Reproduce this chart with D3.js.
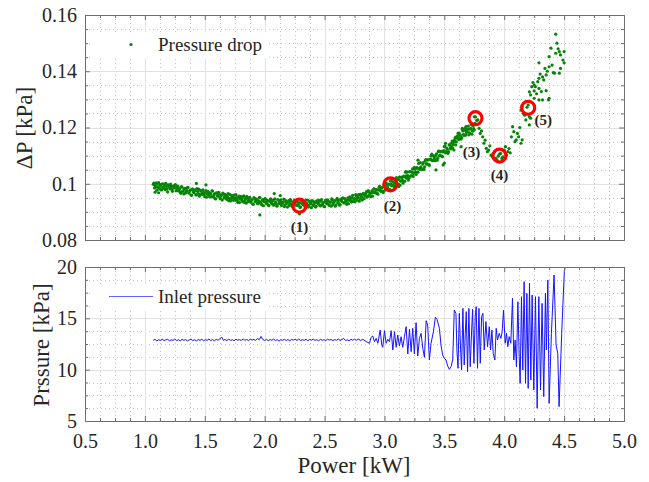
<!DOCTYPE html>
<html><head><meta charset="utf-8">
<script src="https://cdn.jsdelivr.net/npm/d3@7"></script>
<style>body{margin:0;background:#fff}svg{display:block}text{font-family:"Liberation Serif","Times New Roman",serif;fill:#262626}</style>
</head><body><svg id="c" width="649" height="482"></svg>
<script>
// ---------------- data ----------------
const xTickValues = [0.5,1.0,1.5,2.0,2.5,3.0,3.5,4.0,4.5,5.0];
const dpTickValues = [0.08,0.10,0.12,0.14,0.16];
const dpTickLabels = ["0.08","0.1","0.12","0.14","0.16"];
const pTickValues = [5,10,15,20];
const xMinorStep = 0.125, dpMinorStep = 0.005, pMinorStep = 1.25;

const dropPoints = [
[1.07,0.0998],[1.08,0.0985],[1.09,0.0991],[1.10,0.0977],[1.11,0.0999],[1.12,0.0985],[1.13,0.0994],[1.14,0.0978],[1.15,0.0988],[1.16,0.0999],
[1.17,0.0979],[1.18,0.0990],[1.19,0.0971],[1.20,0.0994],[1.21,0.0982],[1.22,0.0991],[1.23,0.0973],[1.24,0.0985],[1.25,0.0994],[1.26,0.0975],
[1.27,0.0988],[1.28,0.0975],[1.29,0.0981],[1.30,0.0966],[1.31,0.0988],[1.32,0.0974],[1.33,0.0982],[1.34,0.0967],[1.35,0.0976],[1.36,0.0987],
[1.37,0.0967],[1.38,0.0977],[1.39,0.0959],[1.40,0.0981],[1.41,0.0969],[1.42,0.0978],[1.43,0.0960],[1.44,0.0973],[1.45,0.0981],[1.46,0.0962],
[1.47,0.0976],[1.48,0.0962],[1.49,0.0969],[1.50,0.0954],[1.51,0.0976],[1.52,0.0962],[1.53,0.0970],[1.54,0.0954],[1.55,0.0963],[1.56,0.0975],
[1.57,0.0954],[1.58,0.0964],[1.59,0.0946],[1.60,0.0968],[1.61,0.0956],[1.62,0.0965],[1.63,0.0947],[1.64,0.0959],[1.65,0.0967],[1.66,0.0949],
[1.67,0.0962],[1.68,0.0948],[1.69,0.0955],[1.70,0.0940],[1.71,0.0962],[1.72,0.0948],[1.73,0.0956],[1.74,0.0941],[1.75,0.0950],[1.76,0.0961],
[1.77,0.0941],[1.78,0.0951],[1.79,0.0933],[1.80,0.0955],[1.81,0.0943],[1.82,0.0952],[1.83,0.0934],[1.84,0.0947],[1.85,0.0955],[1.86,0.0936],
[1.87,0.0950],[1.88,0.0936],[1.89,0.0943],[1.90,0.0928],[1.91,0.0951],[1.92,0.0936],[1.93,0.0945],[1.94,0.0930],[1.95,0.0939],[1.96,0.0951],
[1.97,0.0930],[1.98,0.0941],[1.99,0.0922],[2.00,0.0945],[2.01,0.0934],[2.02,0.0942],[2.03,0.0925],[2.04,0.0938],[2.05,0.0946],[2.06,0.0928],
[2.07,0.0942],[2.08,0.0928],[2.09,0.0935],[2.10,0.0921],[2.11,0.0944],[2.12,0.0930],[2.13,0.0938],[2.14,0.0923],[2.15,0.0933],[2.16,0.0945],
[2.17,0.0925],[2.18,0.0935],[2.19,0.0917],[2.20,0.0940],[2.21,0.0929],[2.22,0.0938],[2.23,0.0920],[2.24,0.0933],[2.25,0.0942],[2.26,0.0924],
[2.27,0.0937],[2.28,0.0924],[2.29,0.0931],[2.30,0.0917],[2.31,0.0940],[2.32,0.0926],[2.33,0.0935],[2.34,0.0920],[2.35,0.0930],[2.36,0.0942],
[2.37,0.0922],[2.38,0.0933],[2.39,0.0915],[2.40,0.0938],[2.41,0.0927],[2.42,0.0936],[2.43,0.0920],[2.44,0.0933],[2.45,0.0942],[2.46,0.0924],
[2.47,0.0938],[2.48,0.0926],[2.49,0.0933],[2.50,0.0919],[2.51,0.0942],[2.52,0.0929],[2.53,0.0938],[2.54,0.0923],[2.55,0.0934],[2.56,0.0946],
[2.57,0.0926],[2.58,0.0938],[2.59,0.0920],[2.60,0.0943],[2.61,0.0933],[2.62,0.0942],[2.63,0.0926],[2.64,0.0940],[2.65,0.0949],[2.66,0.0932],
[2.67,0.0947],[2.68,0.0934],[2.69,0.0942],[2.70,0.0929],[2.71,0.0953],[2.72,0.0940],[2.73,0.0951],[2.74,0.0937],[2.75,0.0948],[2.76,0.0961],
[2.77,0.0942],[2.78,0.0954],[2.79,0.0938],[2.80,0.0962],[2.81,0.0952],[2.82,0.0963],[2.83,0.0947],[2.84,0.0962],[2.85,0.0972],[2.86,0.0956],
[2.87,0.0971],[2.88,0.0960],[2.89,0.0968],[2.90,0.0956],[2.91,0.0981],[2.92,0.0969],[2.93,0.0979],[2.94,0.0966],[2.95,0.0978],[2.96,0.0991],
[2.97,0.0973],[2.98,0.0986],[2.99,0.0969],[3.00,0.0994],
[1.075,0.1002],[1.085,0.0995],[1.095,0.1003],[1.105,0.0988],[1.115,0.1004],[1.125,0.0981],[1.135,0.0997],[1.145,0.1000],[1.155,0.0984],[1.165,0.0993],
[1.175,0.1001],[1.185,0.0982],[1.195,0.0996],[1.205,0.0989],[1.215,0.0999],[1.225,0.0980],[1.235,0.0992],[1.245,0.0986],[1.255,0.0997],[1.265,0.0983],
[1.275,0.0992],[1.085,0.0970],[1.115,0.0968],[1.43,0.1001],[1.51,0.0996],[1.96,0.0889],[2.29,0.0893],[2.08,0.0965],[2.13,0.0958],
[1.285,0.0984],[1.295,0.0970],[1.305,0.0990],[1.315,0.0974],[1.325,0.0964],[1.335,0.0984],[1.345,0.0975],[1.355,0.0986],[1.365,0.0968],[1.375,0.0976],
[1.385,0.0960],[1.395,0.0981],[1.405,0.0970],[1.415,0.0976],[1.425,0.0961],[1.435,0.0983],[1.445,0.0966],[1.455,0.0956],[1.465,0.0976],[1.475,0.0967],
[1.485,0.0978],[1.495,0.0960],[1.505,0.0968],[1.515,0.0952],[1.525,0.0973],[1.535,0.0962],[1.545,0.0967],[1.555,0.0953],[1.565,0.0974],[1.575,0.0957],
[1.585,0.0948],[1.595,0.0967],[1.605,0.0958],[1.615,0.0969],[1.625,0.0951],[1.635,0.0959],[1.645,0.0942],[1.655,0.0964],[1.665,0.0953],[1.675,0.0958],
[1.685,0.0944],[1.695,0.0965],[1.705,0.0948],[1.715,0.0939],[1.725,0.0958],[1.735,0.0950],[1.745,0.0960],[1.755,0.0942],[1.765,0.0951],[1.775,0.0934],
[1.785,0.0956],[1.795,0.0945],[1.805,0.0950],[1.815,0.0936],[1.825,0.0957],[1.835,0.0941],[1.845,0.0931],[1.855,0.0950],[1.865,0.0942],[1.875,0.0952],
[1.885,0.0935],[1.895,0.0943],[1.905,0.0927],[1.915,0.0948],[1.925,0.0938],[1.935,0.0944],[1.945,0.0929],[1.955,0.0951],[1.965,0.0934],[1.975,0.0925],
[1.985,0.0944],[1.995,0.0936],[2.005,0.0947],[2.015,0.0929],[2.025,0.0938],[2.035,0.0922],[2.045,0.0943],[2.055,0.0933],[2.065,0.0939],[2.075,0.0924],
[2.085,0.0946],[2.095,0.0930],[2.105,0.0921],[2.115,0.0941],[2.125,0.0932],[2.135,0.0943],[2.145,0.0926],[2.155,0.0935],[2.165,0.0919],[2.175,0.0940],
[2.185,0.0930],[2.195,0.0936],[2.205,0.0922],[2.215,0.0944],[2.225,0.0927],[2.235,0.0918],[2.245,0.0938],[2.255,0.0930],[2.265,0.0940],[2.275,0.0923],
[2.285,0.0932],[2.295,0.0916],[2.305,0.0938],[2.315,0.0928],[2.325,0.0934],[2.335,0.0920],[2.345,0.0942],[2.355,0.0926],[2.365,0.0917],[2.375,0.0937],
[2.385,0.0929],[2.395,0.0940],[2.405,0.0923],[2.415,0.0932],[2.425,0.0917],[2.435,0.0939],[2.445,0.0929],[2.455,0.0935],[2.465,0.0921],[2.475,0.0944],
[2.485,0.0928],[2.495,0.0919],[2.505,0.0939],[2.515,0.0932],[2.525,0.0943],[2.535,0.0926],[2.545,0.0936],[2.555,0.0920],[2.565,0.0943],[2.575,0.0933],
[2.585,0.0939],[2.595,0.0925],[2.605,0.0948],[2.615,0.0932],[2.625,0.0924],[2.635,0.0945],[2.645,0.0937],[2.655,0.0949],[2.665,0.0933],[2.675,0.0942],
[2.685,0.0927],[2.695,0.0950],[2.705,0.0941],[2.715,0.0948],[2.725,0.0935],[2.735,0.0959],[2.745,0.0944],[2.755,0.0936],[2.765,0.0957],[2.775,0.0950],
[2.785,0.0962],[2.795,0.0947],[2.805,0.0957],[2.815,0.0942],[2.825,0.0966],[2.835,0.0957],[2.845,0.0965],[2.855,0.0952],[2.865,0.0976],[2.875,0.0961],
[2.885,0.0954],[2.895,0.0975],[2.905,0.0969],[2.915,0.0982],[2.925,0.0967],[2.935,0.0977],[2.945,0.0963],[2.955,0.0987],[2.965,0.0978],[2.975,0.0986],
[2.985,0.0974],[2.995,0.0997],
[3.01,0.0997],[3.02,0.0982],[3.03,0.0995],[3.04,0.0979],[3.05,0.1010],[3.06,0.0993],[3.07,0.1007],[3.08,0.0990],[3.09,0.1004],[3.10,0.1022],
[3.11,0.0999],[3.12,0.1015],[3.13,0.0995],[3.14,0.1024],[3.15,0.1012],[3.16,0.1027],[3.17,0.1009],[3.18,0.1028],[3.19,0.1041],[3.20,0.1024],
[3.21,0.1043],[3.22,0.1028],[3.23,0.1042],[3.24,0.1026],[3.25,0.1058],[3.26,0.1042],[3.27,0.1057],[3.28,0.1041],[3.29,0.1056],[3.30,0.1075],
[3.31,0.1053],[3.32,0.1070],[3.33,0.1051],[3.34,0.1081],[3.35,0.1070],[3.36,0.1085],[3.37,0.1067],[3.38,0.1086],[3.39,0.1099],[3.40,0.1082],
[3.41,0.1100],[3.42,0.1086],[3.43,0.1099],[3.44,0.1084],[3.45,0.1115],[3.46,0.1099],[3.47,0.1114],[3.48,0.1098],[3.49,0.1113],[3.50,0.1132],
[3.51,0.1110],[3.52,0.1127],[3.53,0.1108],[3.54,0.1138],[3.55,0.1127],[3.56,0.1144],[3.57,0.1128],[3.58,0.1149],[3.59,0.1164],[3.60,0.1149],
[3.61,0.1170],[3.62,0.1157],[3.63,0.1173],[3.64,0.1159],[3.65,0.1193],[3.66,0.1176],[3.67,0.1190],[3.68,0.1173],[3.69,0.1187],[3.70,0.1205],
[3.71,0.1181],[3.72,0.1197],[3.73,0.1176],[3.74,0.1205],[3.75,0.1192],
[3.005,0.0977],[3.015,0.1002],[3.025,0.0987],[3.035,0.0999],[3.045,0.0979],[3.055,0.1000],[3.065,0.1016],[3.075,0.0994],[3.085,0.1002],[3.095,0.0992],
[3.105,0.1015],[3.115,0.0999],[3.125,0.1024],[3.135,0.1009],[3.145,0.1021],[3.155,0.1002],[3.165,0.1024],[3.175,0.1041],[3.185,0.1020],[3.195,0.1029],
[3.205,0.1020],[3.215,0.1043],[3.225,0.1028],[3.235,0.1053],[3.245,0.1039],[3.255,0.1052],[3.265,0.1033],[3.275,0.1055],[3.285,0.1072],[3.295,0.1051],
[3.305,0.1060],[3.315,0.1051],[3.325,0.1075],[3.335,0.1060],[3.345,0.1086],[3.355,0.1072],[3.365,0.1085],[3.375,0.1066],[3.385,0.1088],[3.395,0.1105],
[3.405,0.1083],[3.415,0.1092],[3.425,0.1082],[3.435,0.1106],[3.445,0.1090],[3.455,0.1116],[3.465,0.1102],[3.475,0.1115],[3.485,0.1096],[3.495,0.1118],
[3.505,0.1135],[3.515,0.1114],[3.525,0.1123],[3.535,0.1114],[3.545,0.1138],[3.555,0.1124],[3.565,0.1152],[3.575,0.1140],[3.585,0.1155],[3.595,0.1138],
[3.605,0.1162],[3.615,0.1180],[3.625,0.1161],[3.635,0.1171],[3.645,0.1164],[3.655,0.1188],[3.665,0.1172],[3.675,0.1197],[3.685,0.1182],[3.695,0.1194],
[3.705,0.1174],[3.715,0.1194],[3.725,0.1210],[3.735,0.1187],[3.745,0.1195],
[3.43,0.1049],[3.49,0.1067],[3.50,0.1073],[3.51,0.1144],[3.56,0.1132],[3.58,0.1120],[3.64,0.1132],[3.60,0.1167],[3.625,0.1179],[3.68,0.1203],
[3.28,0.1084],[3.18,0.1043],[3.24,0.1037],[3.12,0.0990],[3.20,0.1013],[3.76,0.1238],[3.77,0.1225],[3.755,0.1215],[3.75,0.1238],[3.78,0.1227],
[3.65,0.1197],
[3.79,0.1197],[3.80,0.1179],[3.81,0.1188],[3.82,0.1167],[3.83,0.1144],[3.84,0.1155],[3.85,0.1126],[3.86,0.1114],[3.87,0.1120],[3.88,0.1135],
[3.89,0.1102],[3.90,0.1096],[3.91,0.1108],[3.92,0.1114],[3.93,0.1090],[3.94,0.1084],[3.95,0.1098],[3.96,0.1105],[3.97,0.1108],[3.98,0.1090],
[3.99,0.1096],[4.00,0.1120],[4.01,0.1132],[4.02,0.1102],[4.03,0.1114],[4.04,0.1125],[4.05,0.1110],[4.06,0.1167],[4.07,0.1203],[4.08,0.1185],
[4.09,0.1150],[4.10,0.1156],[4.11,0.1179],[4.12,0.1167],[4.13,0.1200],[4.14,0.1144],[4.15,0.1156],[4.14,0.1262],[4.15,0.1274],[4.16,0.1250],
[4.17,0.1244],[4.18,0.1227],[4.19,0.1272],[4.20,0.1280],[4.21,0.1209],[4.22,0.1233],[4.21,0.1238],[4.21,0.1327],[4.22,0.1316],[4.18,0.1292],
[4.23,0.1345],[4.24,0.1360],[4.25,0.1351],[4.25,0.1330],[4.25,0.1304],[4.26,0.1345],[4.27,0.1320],[4.28,0.1363],[4.29,0.1375],[4.29,0.1339],
[4.29,0.1298],[4.29,0.1430],[4.30,0.1390],[4.31,0.1328],[4.32,0.1380],[4.32,0.1298],[4.33,0.1369],[4.34,0.1410],[4.35,0.1387],[4.35,0.1331],
[4.36,0.1400],[4.37,0.1298],[4.375,0.1304],[4.375,0.1416],[4.375,0.1452],[4.39,0.1482],[4.40,0.1422],[4.41,0.1395],[4.42,0.1393],[4.43,0.1532],
[4.43,0.1464],[4.44,0.1500],[4.45,0.1480],[4.46,0.1470],[4.46,0.1393],[4.47,0.1458],[4.47,0.1410],[4.49,0.1440],[4.50,0.1470],[4.50,0.1430]
];

const markerPoints = [[2.29,0.0922],[3.05,0.0998],[3.76,0.1233],[3.96,0.1100],[4.20,0.1270]];
const markerLabels = ["(1)","(2)","(3)","(4)","(5)"];

const pressureLine = [
[1.07,12.86],[1.085,12.95],[1.10,12.80],[1.115,12.92],[1.13,12.84],[1.145,12.97],[1.16,12.83],[1.175,12.91],[1.19,12.96],[1.205,12.82],
[1.22,12.90],[1.235,12.85],[1.25,12.99],[1.265,12.83],[1.28,12.92],[1.295,12.80],[1.31,12.95],[1.325,12.86],[1.34,12.93],[1.355,12.81],
[1.37,12.90],[1.385,12.97],[1.40,12.84],[1.415,12.91],[1.43,12.79],[1.445,12.94],[1.46,12.85],[1.475,12.96],[1.49,12.82],[1.505,12.92],
[1.52,12.86],[1.535,12.98],[1.55,12.83],[1.565,12.93],[1.58,12.81],[1.595,12.95],[1.61,12.87],[1.625,12.99],[1.64,13.18],[1.655,12.86],
[1.67,12.94],[1.685,12.83],[1.70,12.97],[1.715,12.85],[1.73,12.92],[1.745,12.82],[1.76,12.96],[1.775,12.87],[1.79,12.93],[1.805,12.84],
[1.82,12.99],[1.835,12.86],[1.85,12.94],[1.865,12.83],[1.88,12.97],[1.895,12.88],[1.91,12.95],[1.925,12.85],[1.94,13.03],[1.955,12.92],
[1.97,13.24],[1.985,12.94],[2.00,12.84],[2.015,12.95],[2.03,12.82],[2.045,12.93],[2.06,12.87],[2.075,12.98],[2.09,12.84],[2.105,12.92],
[2.12,12.78],[2.135,12.91],[2.15,12.86],[2.165,12.96],[2.18,12.84],[2.195,12.93],[2.21,12.81],[2.225,12.95],[2.24,12.87],[2.255,12.97],
[2.27,12.85],[2.285,12.99],[2.30,12.83],[2.315,12.92],[2.33,12.86],[2.345,12.96],[2.36,12.82],[2.375,12.94],[2.39,12.87],[2.405,12.98],
[2.42,12.84],[2.435,12.93],[2.45,12.81],[2.465,12.95],[2.48,12.86],[2.495,12.92],[2.51,12.83],[2.525,12.97],[2.54,12.88],[2.555,12.95],
[2.57,12.82],[2.585,12.93],[2.60,12.86],[2.615,12.99],[2.63,12.84],[2.645,12.94],[2.66,13.04],[2.675,12.83],[2.69,12.92],[2.705,12.80],
[2.72,12.96],[2.735,12.87],[2.75,12.98],[2.765,12.85],[2.78,13.00],[2.80,12.84],
[2.82,12.95],[2.848,12.73],[2.875,12.57],[2.889,13.15],[2.903,13.28],[2.917,12.73],[2.931,13.05],[2.945,12.57],[2.964,13.86],[2.978,12.40],
[2.986,12.18],[3.0,13.80],[3.014,12.57],[3.028,12.95],[3.042,12.73],[3.056,13.80],[3.07,11.92],[3.084,13.70],[3.098,12.18],[3.111,13.38],
[3.125,12.30],[3.139,13.21],[3.153,12.18],[3.167,13.21],[3.181,14.19],[3.195,11.53],[3.209,13.93],[3.223,11.75],[3.236,14.03],[3.25,11.53],
[3.264,14.58],[3.278,11.33],[3.292,13.05],[3.306,13.54],[3.32,12.08],[3.334,11.20],[3.348,14.77],[3.361,14.35],[3.375,10.94],[3.389,12.57],
[3.409,13.70],[3.425,15.10],[3.439,14.90],[3.459,14.03],[3.472,12.40],[3.486,11.43],[3.5,11.10],[3.514,10.94],[3.528,10.36],[3.542,10.03],
[3.556,10.29],[3.57,10.94],[3.583,15.81],
[3.597,15.49],[3.605,11.92],[3.614,10.13],[3.625,15.49],[3.636,11.92],[3.644,9.97],[3.655,15.97],[3.666,10.46],[3.675,13.54],[3.683,15.65],
[3.694,9.81],[3.705,15.97],[3.716,10.29],[3.728,13.86],[3.736,15.88],[3.747,10.62],[3.758,15.16],[3.766,16.14],[3.777,10.13],[3.789,15.97],
[3.80,10.62],[3.811,15.16],[3.822,15.49],[3.833,11.92],[3.847,14.68],[3.861,12.24],[3.875,14.19],[3.886,11.92],[3.897,13.86],[3.908,11.59],
[3.922,10.94],[3.933,14.03],[3.944,12.89],[3.958,13.54],[3.972,13.05],[3.983,13.70],[3.994,15.81],[4.008,12.57],[4.019,13.54],[4.03,12.24],
[4.041,13.22],[4.055,12.57],[4.069,16.95],[4.08,10.94],[4.091,12.89],[4.102,10.29],[4.114,16.62],[4.125,11.27],[4.133,8.67],[4.144,17.11],
[4.155,9.97],[4.166,18.57],[4.178,8.67],[4.189,17.44],[4.20,8.18],[4.211,18.41],[4.222,9.00],[4.233,17.27],[4.247,8.02],[4.261,17.11],
[4.275,6.24],[4.289,17.11],[4.303,8.02],[4.316,16.46],[4.33,7.37],[4.344,17.44],[4.352,11.92],[4.364,18.73],[4.375,6.72],[4.394,13.54],
[4.416,19.22],[4.433,12.40],[4.447,11.59],[4.458,6.40],[4.48,13.54],[4.502,19.64],[4.508,19.87]
];

// ---------------- drawing ----------------
const svg = d3.select("#c");
const L = 85, R = 624;
const top1 = 15, bot1 = 240, top2 = 267, bot2 = 421;
const x = d3.scaleLinear().domain([0.5,5]).range([L,R]);
const y1 = d3.scaleLinear().domain([0.08,0.16]).range([bot1,top1]);
const y2 = d3.scaleLinear().domain([5,20]).range([bot2,top2]);

const near = (a,b)=>Math.abs(a-b)<1e-9;
const xMinor = d3.range(0.5, 5.0001, xMinorStep).filter(v=>!xTickValues.some(t=>near(t,v)));
const y1Minor = d3.range(0.08, 0.16001, dpMinorStep).filter(v=>!dpTickValues.some(t=>near(t,v)));
const y2Minor = d3.range(5, 20.001, pMinorStep).filter(v=>!pTickValues.some(t=>near(t,v)));

function panel(yS, yTicks, yMinor, top, bot, clipId){
  const g = svg.append("g");
  g.append("g").selectAll("line").data(xMinor).join("line")
    .attr("x1",d=>Math.round(x(d))+0.5).attr("x2",d=>Math.round(x(d))+0.5).attr("y1",top).attr("y2",bot)
    .attr("stroke","#b5b5b5").attr("stroke-width",0.8).attr("stroke-dasharray","1,3");
  g.append("g").selectAll("line").data(yMinor).join("line")
    .attr("y1",d=>Math.round(yS(d))+0.5).attr("y2",d=>Math.round(yS(d))+0.5).attr("x1",L).attr("x2",R)
    .attr("stroke","#b5b5b5").attr("stroke-width",0.8).attr("stroke-dasharray","1,3");
  g.append("g").selectAll("line").data(xTickValues).join("line")
    .attr("x1",d=>Math.round(x(d))+0.5).attr("x2",d=>Math.round(x(d))+0.5).attr("y1",top).attr("y2",bot)
    .attr("stroke","#e2e2e2").attr("stroke-width",1);
  g.append("g").selectAll("line").data(yTicks).join("line")
    .attr("y1",d=>Math.round(yS(d))+0.5).attr("y2",d=>Math.round(yS(d))+0.5).attr("x1",L).attr("x2",R)
    .attr("stroke","#e2e2e2").attr("stroke-width",1);
  svg.append("clipPath").attr("id",clipId).append("rect")
    .attr("x",L).attr("y",top).attr("width",R-L).attr("height",bot-top);
  return g;
}
function frame(yS, yTicks, yMinor, top, bot, yFmt, showX){
  const g = svg.append("g");
  const style = sel => { sel.select(".domain").attr("stroke","#6e6e6e").attr("stroke-width",1);
    sel.selectAll(".tick line").attr("stroke","#6e6e6e");
    sel.selectAll("text").attr("font-size","20px").attr("fill","#262626")
       .attr("font-family","'Liberation Serif','Times New Roman',serif"); };
  g.append("g").attr("transform",`translate(0,${bot})`)
    .call(d3.axisBottom(x).tickValues(xTickValues).tickSize(-5).tickPadding(13)
      .tickFormat(showX ? d3.format(".1f") : ()=>"")).call(style);
  g.append("g").attr("transform",`translate(0,${bot})`)
    .call(d3.axisBottom(x).tickValues(xMinor).tickSize(-3).tickFormat(()=>"")).call(style);
  g.append("g").attr("transform",`translate(0,${top})`)
    .call(d3.axisTop(x).tickValues(xTickValues).tickSize(-5).tickFormat(()=>"")).call(style);
  g.append("g").attr("transform",`translate(0,${top})`)
    .call(d3.axisTop(x).tickValues(xMinor).tickSize(-3).tickFormat(()=>"")).call(style);
  g.append("g").attr("transform",`translate(${L},0)`)
    .call(d3.axisLeft(yS).tickValues(yTicks).tickSize(-5).tickPadding(8).tickFormat(yFmt)).call(style);
  g.append("g").attr("transform",`translate(${L},0)`)
    .call(d3.axisLeft(yS).tickValues(yMinor).tickSize(-3).tickFormat(()=>"")).call(style);
  g.append("g").attr("transform",`translate(${R},0)`)
    .call(d3.axisRight(yS).tickValues(yTicks).tickSize(-5).tickFormat(()=>"")).call(style);
  g.append("g").attr("transform",`translate(${R},0)`)
    .call(d3.axisRight(yS).tickValues(yMinor).tickSize(-3).tickFormat(()=>"")).call(style);
}

// ---- top panel ----
panel(y1, dpTickValues, y1Minor, top1, bot1, "clip1");
const gTop = svg.append("g").attr("clip-path","url(#clip1)");
gTop.selectAll("circle.pt").data(dropPoints).join("circle").attr("class","pt")
  .attr("cx",d=>x(d[0])).attr("cy",d=>y1(d[1])).attr("r",1.6).attr("fill","#058505");
gTop.selectAll("circle.mk").data(markerPoints).join("circle").attr("class","mk")
  .attr("cx",d=>x(d[0])).attr("cy",d=>y1(d[1])).attr("r",6.5)
  .attr("fill","none").attr("stroke","#ff0000").attr("stroke-width",3.2);
const labelOffsets = [[0,26],[2,27],[-4,39],[0,24],[15,17]];
svg.append("g").selectAll("text").data(markerPoints).join("text")
  .attr("x",(d,i)=>x(d[0])+labelOffsets[i][0]).attr("y",(d,i)=>y1(d[1])+labelOffsets[i][1])
  .attr("text-anchor","middle").attr("font-size","15px").attr("font-weight","bold").attr("fill","#111")
  .text((d,i)=>markerLabels[i]);
frame(y1, dpTickValues, y1Minor, top1, bot1, (d,i)=>dpTickLabels[i], false);
svg.append("rect").attr("x",91).attr("y",32).attr("width",176).attr("height",26).attr("fill","#fff");
svg.append("circle").attr("cx",131).attr("cy",44.5).attr("r",1.6).attr("fill","#058505");
svg.append("text").attr("x",158).attr("y",51).attr("font-size","19px").attr("fill","#111").text("Pressure drop");

// ---- bottom panel ----
panel(y2, pTickValues, y2Minor, top2, bot2, "clip2");
const line = d3.line().x(d=>x(d[0])).y(d=>y2(d[1]));
svg.append("g").attr("clip-path","url(#clip2)").append("path").datum(pressureLine)
  .attr("d",line).attr("fill","none").attr("stroke","#1414ff").attr("stroke-width",1).attr("stroke-linejoin","round");
frame(y2, pTickValues, y2Minor, top2, bot2, d3.format("d"), true);
svg.append("rect").attr("x",92).attr("y",284).attr("width",175).attr("height",27).attr("fill","#fff");
svg.append("line").attr("x1",109).attr("x2",153).attr("y1",296.5).attr("y2",296.5).attr("stroke","#6060ff").attr("stroke-width",1);
svg.append("text").attr("x",158).attr("y",303).attr("font-size","19px").attr("fill","#111").text("Inlet pressure");

// axis titles
svg.append("text").attr("transform","translate(32,128) rotate(-90)").attr("text-anchor","middle")
  .attr("font-size","23px").attr("fill","#262626").text("ΔP [kPa]");
svg.append("text").attr("transform","translate(49,345) rotate(-90)").attr("text-anchor","middle")
  .attr("font-size","23px").attr("fill","#262626").text("Prssure [kPa]");
svg.append("text").attr("x",354).attr("y",473).attr("text-anchor","middle")
  .attr("font-size","23px").attr("fill","#262626").text("Power [kW]");
</script></body></html>
